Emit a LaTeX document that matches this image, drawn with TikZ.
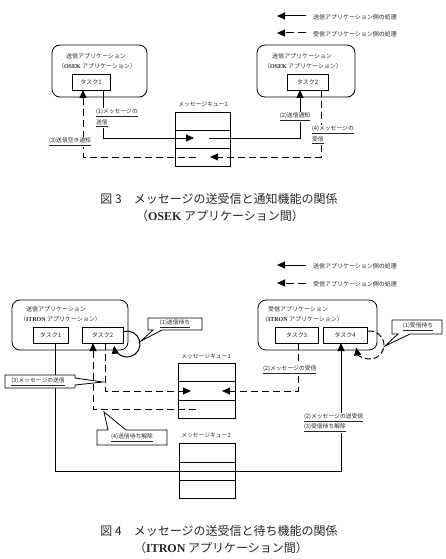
\documentclass[tikz,border=0pt]{standalone}
\usepackage{fontspec}
\setmainfont{Noto Sans CJK JP}
\newfontfamily\lser{Liberation Serif}
\usetikzlibrary{arrows.meta}
\begin{document}
\begin{tikzpicture}[x=1pt,y=-1pt,
  every node/.style={inner sep=0pt, outer sep=0pt},
  tiny/.style={font=\fontsize{6}{7}\selectfont, text=black!85},
  small/.style={font=\fontsize{5.8}{7}\selectfont, text=black!85},
  lbl/.style={font=\fontsize{5.8}{7}\selectfont, text=black!85, fill=white, inner sep=1pt},
  captext/.style={font=\fontsize{12}{14}\selectfont, text=black!85},
  appbox/.style={draw, line width=0.8pt, rounded corners=8pt},
  taskbox/.style={draw, line width=0.8pt, minimum height=16pt, font=\fontsize{6}{7}\selectfont, text=black!85},
  qbox/.style={draw, line width=0.8pt},
  qline/.style={line width=0.8pt},
  sol/.style={line width=1pt, -{Triangle[length=8pt,width=7pt]}},
  dsh/.style={sol, dash pattern=on 7pt off 4pt},
  callout/.style={draw, line width=0.8pt, fill=white, line join=miter},
]
\useasboundingbox (0,0) rectangle (445,559);

% ================= TOP FIGURE =================
\coordinate (la1) at (306,16); \coordinate (lb1) at (277,16);
\draw[sol] (la1) -- (lb1);
\node[tiny, anchor=west] (lt1) at (313,17) {送信アプリケーション側の処理};
\coordinate (la2) at (306,33); \coordinate (lb2) at (277,33);
\draw[dsh, dash pattern=on 8pt off 4pt] (la2) -- (lb2);
\node[tiny, anchor=west] (lt2) at (313,34) {受信アプリケーション側の処理};

\node[appbox, minimum width=95pt, minimum height=52pt] (appA) at (99.5,71) {};
\node[tiny, anchor=west] (appA1) at (66,56) {送信アプリケーション};
\node[tiny, anchor=west] (appA2) at (58,66) {（{\lser\bfseries OSEK} アプリケーション）};
\node[taskbox, minimum width=38pt] (t1) at (91,82) {タスク1};

\node[appbox, minimum width=98pt, minimum height=52pt] (appB) at (306,71) {};
\node[tiny, anchor=west] (appB1) at (272,56) {送信アプリケーション};
\node[tiny, anchor=west] (appB2) at (264,66) {（{\lser\bfseries OSEK} アプリケーション）};
\node[taskbox, minimum width=41pt] (t2) at (307.5,82) {タスク2};

\node[qbox, minimum width=55pt, minimum height=54pt] (q1) at (202.5,139) {};
\draw[qline] (q1.west |- 0,130) -- (q1.east |- 0,130);
\draw[qline] (q1.west |- 0,148) -- (q1.east |- 0,148);
\node[small] (q1l) at (203,104) {メッセージキュー1};

\coordinate (p1) at (194,138);
\draw[sol] ([xshift=12pt]t1.south) |- (p1);
\coordinate (p2) at (209,138);
\draw[sol] (p2) -| ([xshift=-7.5pt]t2.south);
\coordinate (p4) at (210,157);
\draw[dsh] ([xshift=13.5pt]t2.south) |- (p4);
\coordinate (p3) at (196,157);
\draw[dsh] (p3) -| ([xshift=-8pt]t1.south);

\node[lbl, anchor=west] (L1a) at (95,113) {\underline{(1)メッセージの}};
\node[lbl, anchor=west] (L1b) at (95,123) {\underline{送信}};
\node[lbl, anchor=east] (L3) at (92,142) {\underline{(3)送信空き通知}};
\node[lbl] (L2) at (295,117) {\underline{(2)送信通知}};
\node[lbl, anchor=west] (L4a) at (311,130) {\underline{(4)メッセージの}};
\node[lbl, anchor=west] (L4b) at (311,140) {\underline{受信}};

\node[captext] (cap3a) at (219,199) {図 3　メッセージの送受信と通知機能の関係};
\node[captext] (cap3b) at (220,216) {（{\lser\bfseries OSEK} アプリケーション間）};

% ================= BOTTOM FIGURE =================
\coordinate (la3) at (306,265); \coordinate (lb3) at (277,265);
\draw[sol] (la3) -- (lb3);
\node[tiny, anchor=west] (lt3) at (313,266) {送信アプリケーション側の処理};
\coordinate (la4) at (306,283); \coordinate (lb4) at (277,283);
\draw[dsh, dash pattern=on 8pt off 4pt] (la4) -- (lb4);
\node[tiny, anchor=west] (lt4) at (313,284) {受信アプリケーション側の処理};

\node[appbox, minimum width=116pt, minimum height=50pt] (appC) at (70,325) {};
\node[tiny, anchor=west] (appC1) at (26,309) {送信アプリケーション};
\node[tiny, anchor=west] (appC2) at (20,319) {（{\lser\bfseries ITRON} アプリケーション）};
\node[taskbox, minimum width=35pt] (b1) at (50.5,335) {タスク1};
\node[taskbox, minimum width=41pt] (b2) at (102.5,335) {タスク2};

\node[appbox, minimum width=119pt, minimum height=50pt] (appD) at (317.5,325) {};
\node[tiny, anchor=west] (appD1) at (268,309) {受信アプリケーション};
\node[tiny, anchor=west] (appD2) at (262,319) {（{\lser\bfseries ITRON} アプリケーション）};
\node[taskbox, minimum width=43pt] (b3) at (296.5,335) {タスク3};
\node[taskbox, minimum width=44pt] (b4) at (345,335) {タスク4};

\node[qbox, minimum width=57pt, minimum height=55pt] (qb1) at (206.5,390.5) {};
\draw[qline] (qb1.west |- 0,381) -- (qb1.east |- 0,381);
\draw[qline] (qb1.west |- 0,400) -- (qb1.east |- 0,400);
\node[small] (qb1l) at (206,356) {メッセージキュー1};

\node[qbox, minimum width=56pt, minimum height=55pt] (qb2) at (207,470.5) {};
\draw[qline] (qb2.west |- 0,462) -- (qb2.east |- 0,462);
\draw[qline] (qb2.west |- 0,480) -- (qb2.east |- 0,480);
\node[small] (qb2l) at (206,435) {メッセージキュー2};

\coordinate (bc) at (341,471);
\draw[sol] ([xshift=4.5pt]b1.south) |- (bc) -- ([xshift=-4pt]b4.south);

\coordinate (r1) at (191,391);
\draw[dsh] ([xshift=2.5pt]b2.south) |- (r1);
\coordinate (r3) at (196,409);
\draw[dsh] (r3) -| ([xshift=-9.5pt]b2.south);
\coordinate (r2) at (222,391);
\draw[dsh] ([xshift=1.5pt]b3.south) |- (r2);

\coordinate (c2) at (127,344);
\draw[sol] ([shift={(-105:13)}]c2) arc[start angle=-105, end angle=172, radius=13];
\coordinate (c4) at (370,345);
\draw[dsh, dash pattern=on 6pt off 3pt] ([shift={(-98:14)}]c4) arc[start angle=-98, end angle=170, radius=14];

\draw[callout] (148,318) -- (202,318) -- (202,330) -- (162,330) -- (141,341) -- (153,330) -- (148,330) -- cycle;
\node[small] (co1) at (175,324) {\underline{(1)送信待ち}};
\draw[callout] (392,320) -- (442,320) -- (442,334) -- (410,334) -- (385,346) -- (398,334) -- (392,334) -- cycle;
\node[small] (co2) at (418,327) {\underline{(1)受信待ち}};
\draw[callout] (5,375) -- (75,375) -- (75,378) -- (103,382) -- (75,385) -- (75,388) -- (5,388) -- cycle;
\node[small] (co3) at (38,381.5) {\underline{(3)メッセージの送信}};
\draw[callout] (97,430) -- (108,430) -- (104,412) -- (126,430) -- (167,430) -- (167,445) -- (97,445) -- cycle;
\node[small] (co4) at (132,437.5) {\underline{(4)送信待ち解除}};

\node[lbl, anchor=west] (M1) at (262,370) {\underline{(2)メッセージの受信}};
\node[lbl, anchor=west] (M2) at (303,418) {\underline{(2)メッセージの送受信}};
\node[lbl, anchor=west] (M3) at (303,428) {\underline{(3)受信待ち解除}};

\node[captext] (cap4a) at (219,531) {図 4　メッセージの送受信と待ち機能の関係};
\node[captext] (cap4b) at (221,548) {（{\lser\bfseries ITRON} アプリケーション間）};
\end{tikzpicture}
\end{document}
